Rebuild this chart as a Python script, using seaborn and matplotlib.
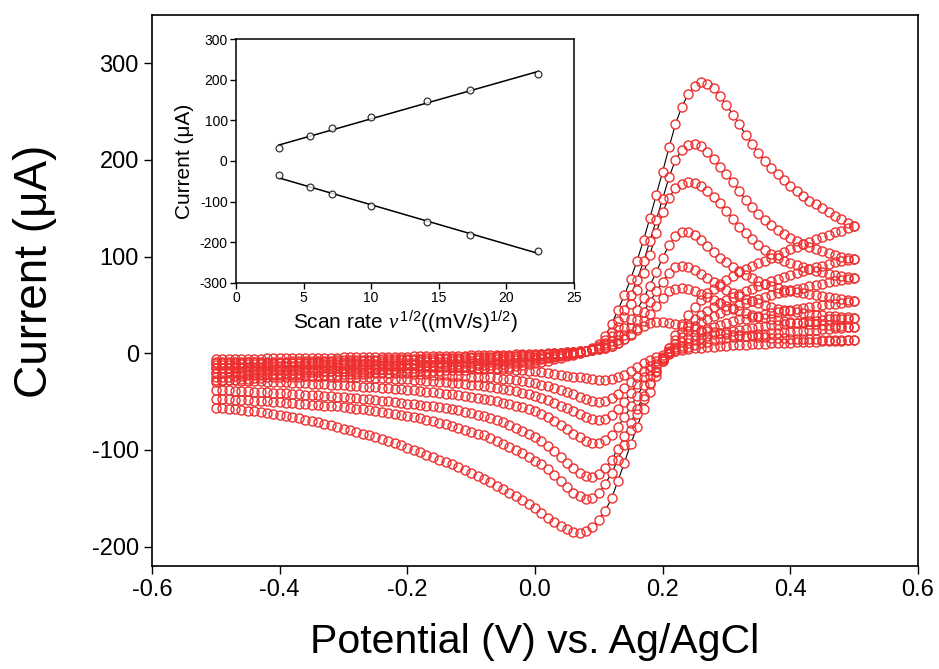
import numpy as np
import pandas as pd
import seaborn as sns
import matplotlib.pyplot as plt

# cyclic voltammograms at several scan rates (uA)
potential = np.round(np.linspace(-0.5, 0.5, 101), 2)
scan_rates = [10, 30, 50, 100, 200, 300, 500]

# forward (anodic) sweeps, -0.5 -> 0.5 V
fwd_10 = [-6, -6, -6, -6, -6, -6, -6, -6, -5, -5, -5,
          -5, -5, -5, -5, -5, -5, -5, -5, -5, -4,
          -4, -4, -4, -4, -4, -4, -4, -4, -4, -4,
          -3, -3, -3, -3, -3, -3, -3, -3, -3, -2,
          -2, -2, -2, -2, -2, -2, -1, -1, -1, -1,
          -1, 0, 0, 0, 1, 1, 2, 2, 3, 4,
          5, 8, 11, 15, 19, 24, 28, 31, 32, 32,
          31, 30, 28, 27, 25, 24, 23, 22, 21, 20,
          19, 19, 18, 18, 17, 17, 16, 16, 16, 15,
          15, 15, 15, 15, 14, 14, 14, 14, 14, 14]
fwd_30 = [-10, -10, -10, -10, -10, -9, -9, -9, -9, -9, -9,
          -9, -8, -8, -8, -8, -8, -8, -8, -7, -7,
          -7, -7, -7, -7, -7, -6, -6, -6, -6, -6,
          -6, -6, -5, -5, -5, -5, -5, -5, -4, -4,
          -4, -4, -4, -3, -3, -3, -3, -2, -2, -2,
          -1, -1, 0, 0, 1, 1, 2, 2, 3, 4,
          6, 8, 11, 15, 20, 26, 33, 41, 49, 57,
          64, 67, 68, 67, 64, 61, 58, 55, 52, 49,
          46, 44, 42, 40, 38, 37, 35, 34, 33, 32,
          31, 31, 30, 30, 29, 29, 28, 28, 27, 27]
fwd_50 = [-12, -12, -12, -12, -11, -11, -11, -11, -11, -11, -10,
          -10, -10, -10, -10, -10, -9, -9, -9, -9, -9,
          -9, -9, -8, -8, -8, -8, -8, -8, -7, -7,
          -7, -7, -7, -7, -6, -6, -6, -6, -6, -5,
          -5, -5, -5, -4, -4, -4, -3, -3, -3, -2,
          -2, -1, -1, 0, 0, 1, 1, 2, 3, 5,
          7, 10, 14, 19, 26, 34, 43, 53, 64, 74,
          83, 89, 90, 89, 86, 82, 78, 74, 70, 66,
          62, 59, 56, 54, 52, 50, 48, 46, 45, 44,
          43, 42, 41, 40, 40, 39, 39, 38, 38, 37]
fwd_100 = [-15, -15, -15, -14, -14, -14, -14, -14, -13, -13, -13,
           -13, -13, -13, -12, -12, -12, -12, -12, -12, -11,
           -11, -11, -11, -11, -11, -10, -10, -10, -10, -10,
           -10, -9, -9, -9, -9, -9, -8, -8, -8, -8,
           -7, -7, -7, -6, -6, -6, -5, -5, -4, -4,
           -3, -3, -2, -1, 0, 0, 1, 2, 4, 6,
           9, 13, 19, 26, 35, 45, 57, 70, 84, 99,
           112, 121, 126, 125, 122, 117, 111, 105, 99, 94,
           89, 85, 81, 78, 75, 72, 70, 68, 66, 64,
           63, 62, 61, 60, 59, 58, 57, 56, 55, 54]
fwd_200 = [-20, -20, -19, -19, -19, -18, -18, -18, -18, -17, -17,
           -17, -17, -16, -16, -16, -16, -15, -15, -15, -15,
           -14, -14, -14, -14, -14, -13, -13, -13, -13, -12,
           -12, -12, -12, -12, -11, -11, -11, -11, -10, -10,
           -10, -9, -9, -9, -8, -8, -7, -7, -6, -5,
           -5, -4, -3, -2, -1, 0, 1, 2, 4, 6,
           11, 18, 27, 38, 51, 66, 83, 102, 124, 146,
           161, 171, 175, 177, 176, 173, 168, 162, 155, 147,
           139, 131, 124, 118, 112, 107, 103, 99, 96, 93,
           91, 89, 87, 85, 84, 82, 81, 80, 79, 78]
fwd_300 = [-25, -24, -24, -23, -23, -22, -22, -22, -21, -21, -21,
           -20, -20, -20, -19, -19, -19, -18, -18, -18, -18,
           -17, -17, -17, -17, -16, -16, -16, -16, -15, -15,
           -15, -15, -14, -14, -14, -14, -13, -13, -13, -13,
           -12, -12, -12, -11, -11, -10, -10, -9, -8, -7,
           -6, -5, -4, -3, -2, -1, 0, 2, 4, 8,
           14, 22, 33, 45, 60, 76, 95, 116, 138, 160,
           182, 200, 210, 216, 217, 214, 208, 201, 193, 185,
           177, 168, 159, 151, 144, 138, 133, 128, 123, 119,
           116, 113, 110, 108, 106, 104, 102, 100, 99, 98]
fwd_500 = [-30, -29, -28, -28, -27, -27, -26, -26, -25, -25, -25,
           -24, -24, -24, -23, -23, -23, -22, -22, -22, -21,
           -21, -21, -21, -20, -20, -20, -20, -19, -19, -19,
           -19, -18, -18, -18, -18, -17, -17, -17, -17, -16,
           -16, -16, -15, -15, -14, -14, -13, -12, -11, -10,
           -9, -8, -6, -5, -3, -2, 0, 2, 5, 10,
           18, 30, 45, 60, 77, 96, 117, 140, 164, 188,
           213, 237, 255, 268, 277, 281, 279, 274, 266, 257,
           247, 237, 226, 217, 207, 199, 192, 185, 179, 173,
           168, 163, 158, 154, 150, 146, 142, 139, 135, 132]

# reverse (cathodic) sweeps, listed from -0.5 to 0.5 V
rev_10 = [-9, -9, -9, -9, -9, -9, -9, -10, -10, -10, -10,
          -10, -10, -10, -10, -10, -10, -11, -11, -11, -11,
          -11, -11, -11, -11, -12, -12, -12, -12, -12, -12,
          -12, -13, -13, -13, -13, -13, -14, -14, -14, -14,
          -15, -15, -15, -16, -16, -16, -17, -17, -18, -18,
          -19, -20, -21, -22, -23, -24, -25, -26, -27, -28,
          -28, -27, -25, -22, -18, -14, -10, -7, -4, -2,
          0, 2, 3, 4, 5, 6, 7, 7, 8, 8,
          9, 9, 9, 10, 10, 10, 11, 11, 11, 11,
          12, 12, 12, 12, 13, 13, 13, 13, 14, 14]
rev_30 = [-15, -15, -15, -15, -15, -16, -16, -16, -16, -16, -16,
          -17, -17, -17, -17, -17, -17, -18, -18, -18, -18,
          -18, -19, -19, -19, -19, -19, -20, -20, -20, -20,
          -21, -21, -21, -22, -22, -22, -23, -23, -23, -24,
          -24, -25, -25, -26, -27, -27, -28, -29, -30, -31,
          -33, -34, -36, -38, -40, -42, -45, -47, -49, -50,
          -49, -46, -42, -36, -30, -24, -18, -13, -8, -4,
          -1, 2, 5, 7, 9, 11, 12, 14, 15, 16,
          17, 18, 18, 19, 20, 20, 21, 21, 22, 22,
          23, 23, 24, 24, 25, 25, 26, 26, 27, 27]
rev_50 = [-20, -20, -20, -20, -21, -21, -21, -21, -21, -22, -22,
          -22, -22, -22, -23, -23, -23, -23, -24, -24, -24,
          -24, -25, -25, -25, -26, -26, -26, -27, -27, -27,
          -28, -28, -29, -29, -30, -30, -31, -31, -32, -33,
          -33, -34, -35, -36, -37, -38, -39, -41, -42, -44,
          -46, -48, -51, -54, -57, -60, -63, -66, -68, -69,
          -68, -64, -58, -50, -41, -32, -24, -17, -11, -5,
          0, 4, 8, 11, 14, 16, 18, 20, 21, 22,
          23, 24, 25, 26, 27, 28, 29, 29, 30, 31,
          31, 32, 33, 33, 34, 35, 35, 36, 36, 37]
rev_100 = [-28, -28, -28, -28, -29, -29, -29, -29, -30, -30, -30,
           -30, -31, -31, -31, -32, -32, -32, -33, -33, -33,
           -34, -34, -35, -35, -35, -36, -36, -37, -37, -38,
           -38, -39, -40, -40, -41, -42, -42, -43, -44, -45,
           -46, -47, -48, -49, -51, -52, -54, -56, -58, -60,
           -63, -66, -70, -74, -78, -83, -87, -91, -93, -93,
           -90, -84, -76, -66, -55, -44, -33, -23, -14, -6,
           1, 7, 12, 16, 19, 22, 25, 27, 29, 31,
           33, 35, 36, 38, 39, 41, 42, 43, 44, 45,
           46, 47, 48, 49, 50, 51, 51, 52, 53, 54]
rev_200 = [-38, -38, -38, -39, -39, -39, -40, -40, -40, -41, -41,
           -41, -42, -42, -43, -43, -43, -44, -44, -45, -45,
           -46, -46, -47, -47, -48, -49, -49, -50, -51, -52,
           -52, -53, -54, -55, -56, -57, -58, -59, -61, -62,
           -64, -65, -67, -69, -71, -74, -77, -80, -83, -87,
           -91, -96, -101, -107, -113, -119, -124, -127, -128, -125,
           -119, -110, -99, -86, -72, -58, -44, -31, -19, -8,
           2, 10, 17, 23, 28, 32, 36, 39, 42, 45,
           47, 50, 52, 54, 56, 58, 60, 62, 63, 65,
           67, 68, 70, 71, 72, 74, 75, 76, 77, 78]
rev_300 = [-47, -47, -47, -48, -48, -48, -49, -49, -49, -50, -50,
           -51, -51, -52, -52, -53, -53, -54, -55, -55, -56,
           -57, -58, -58, -59, -60, -61, -62, -63, -64, -65,
           -66, -67, -69, -70, -72, -73, -75, -77, -79, -81,
           -83, -85, -88, -91, -94, -97, -100, -103, -107, -111,
           -115, -120, -126, -132, -138, -144, -148, -151, -150, -145,
           -135, -124, -110, -95, -79, -63, -47, -32, -18, -6,
           5, 14, 22, 29, 35, 40, 44, 48, 52, 55,
           58, 61, 64, 67, 70, 72, 75, 77, 79, 81,
           83, 85, 87, 89, 90, 92, 94, 95, 97, 98]
rev_500 = [-57, -57, -58, -58, -59, -60, -60, -61, -62, -63, -64,
           -65, -66, -67, -69, -70, -71, -73, -74, -76, -78,
           -79, -81, -83, -85, -87, -89, -91, -93, -95, -98,
           -100, -102, -105, -107, -110, -112, -115, -118, -121, -124,
           -127, -130, -133, -137, -140, -144, -148, -152, -156, -160,
           -165, -170, -175, -179, -182, -185, -186, -184, -180, -172,
           -163, -150, -132, -113, -94, -76, -58, -40, -23, -8,
           6, 19, 30, 40, 48, 55, 62, 67, 72, 76,
           80, 84, 87, 90, 93, 96, 99, 102, 105, 108,
           110, 113, 115, 118, 120, 122, 125, 127, 130, 132]

forward = [fwd_10, fwd_30, fwd_50, fwd_100, fwd_200, fwd_300, fwd_500]
reverse = [rev_10, rev_30, rev_50, rev_100, rev_200, rev_300, rev_500]

# inset: peak current vs square root of scan rate
sqrt_rate = [3.16, 5.48, 7.07, 10.0, 14.14, 17.32, 22.36]
ipa = [31, 62, 80, 107, 147, 174, 215]
ipc = [-35, -64, -82, -111, -151, -181, -222]

sns.set_style('ticks')
plt.rcParams['font.family'] = ['Liberation Sans', 'DejaVu Sans']
plt.rcParams['axes.unicode_minus'] = False
plt.rcParams['mathtext.fontset'] = 'custom'
plt.rcParams['mathtext.rm'] = 'Liberation Sans'
plt.rcParams['mathtext.it'] = 'Liberation Serif:italic'
for k in ['text.color', 'axes.labelcolor', 'xtick.color', 'ytick.color', 'axes.edgecolor']:
    plt.rcParams[k] = 'black'

red = '#ee3030'

parts = []
for rate, f, r in zip(scan_rates, forward, reverse):
    parts.append(pd.DataFrame({
        'E': np.concatenate([potential, potential[::-1]]),
        'I': np.concatenate([f, r[::-1]]),
        'scan': rate,
    }))
df = pd.concat(parts, ignore_index=True)

fig = plt.figure(figsize=(9.39, 6.69), dpi=100)
ax = fig.add_axes([0.1619, 0.154, 0.8157, 0.8236])

# thin black connecting lines
sns.lineplot(data=df, x='E', y='I', units='scan', estimator=None, sort=False,
             color='black', linewidth=0.8, ax=ax, zorder=2)
# white fill hides the line inside each circle
sns.lineplot(data=df, x='E', y='I', units='scan', estimator=None, sort=False,
             color='white', linestyle='none', marker='o', markersize=6.5,
             markerfacecolor='white', markeredgecolor='white', markeredgewidth=0,
             ax=ax, zorder=3)
# open red circles
sns.lineplot(data=df, x='E', y='I', units='scan', estimator=None, sort=False,
             color=red, linestyle='none', marker='o', markersize=6.5,
             markerfacecolor='none', markeredgecolor=red, markeredgewidth=1.0,
             ax=ax, zorder=4)

ax.set_xlim(-0.6, 0.6)
ax.set_ylim(-220, 350)
ax.set_xticks([-0.6, -0.4, -0.2, 0.0, 0.2, 0.4, 0.6])
ax.set_xticklabels(['-0.6', '-0.4', '-0.2', '0.0', '0.2', '0.4', '0.6'])
ax.set_yticks([-200, -100, 0, 100, 200, 300])
ax.tick_params(labelsize=17, direction='out', length=6, width=1.0)
ax.set_xlabel('Potential (V) vs. Ag/AgCl', fontsize=29.5, labelpad=16)
ax.set_ylabel('Current (\u03bcA)', fontsize=33)
ax.yaxis.set_label_coords(-0.124, 0.535)
for s in ax.spines.values():
    s.set_visible(True)
    s.set_linewidth(1.2)
    s.set_color('black')

# inset
axin = fig.add_axes([0.2513, 0.577, 0.36, 0.3647])
for yy in (ipa, ipc):
    sns.regplot(x=sqrt_rate, y=yy, ci=None, color='black', marker='o',
                scatter_kws={'facecolors': 'white', 's': 24, 'linewidths': 0.9, 'zorder': 3},
                line_kws={'linewidth': 1.1, 'zorder': 2}, ax=axin)
axin.set_xlim(0, 25)
axin.set_ylim(-300, 300)
axin.set_xticks([0, 5, 10, 15, 20, 25])
axin.set_yticks([-300, -200, -100, 0, 100, 200, 300])
axin.tick_params(labelsize=10, direction='out', length=4, width=1.0, pad=2)
axin.set_xlabel(r'Scan rate $\nu^{\,1/2}$((mV/s)$^{1/2}$)', fontsize=15, labelpad=2)
axin.set_ylabel('Current (\u03bcA)', fontsize=15, labelpad=4)
for s in axin.spines.values():
    s.set_visible(True)
    s.set_linewidth(1.1)
    s.set_color('black')

fig.savefig('out.png', dpi=100)
